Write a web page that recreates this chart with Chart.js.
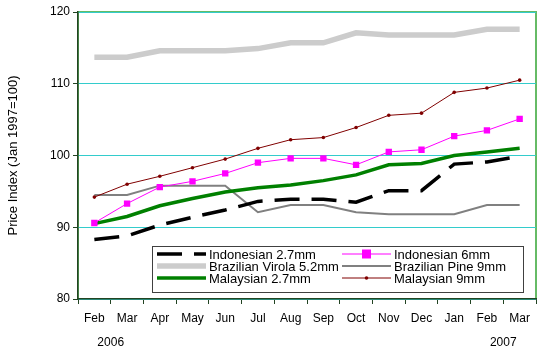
<!DOCTYPE html>
<html>
<head>
<meta charset="utf-8">
<script src="https://cdn.jsdelivr.net/npm/chart.js@4"></script>
<style>
  body { margin: 0; background: #fff; }
  #wrap { width: 542px; height: 356px; }
</style>
</head>
<body>
<div id="wrap"><canvas id="c"></canvas></div>
<script>
const months = ["Feb", "Mar", "Apr", "May", "Jun", "Jul", "Aug", "Sep", "Oct", "Nov", "Dec", "Jan", "Feb", "Mar"];
const years = [{ label: "2006", from: 0, to: 1 }, { label: "2007", from: 12, to: 13 }];
const yTicks = [80, 90, 100, 110, 120];

const indonesian27 = [88.3, 88.8, 90.3, 91.4, 92.4, 93.6, 93.9, 93.9, 93.5, 95.1, 95.1, 98.8, 99.1, 99.9];
const indonesian6 = [90.6, 93.3, 95.6, 96.4, 97.5, 99.0, 99.6, 99.6, 98.7, 100.5, 100.8, 102.7, 103.5, 105.1];
const brazVirola = [113.7, 113.7, 114.6, 114.6, 114.6, 114.9, 115.7, 115.7, 117.1, 116.8, 116.8, 116.8, 117.6, 117.6];
const brazPine = [94.5, 94.5, 95.8, 95.8, 95.8, 92.1, 93.1, 93.1, 92.1, 91.8, 91.8, 91.8, 93.1, 93.1];
const malaysian27 = [90.5, 91.5, 93.0, 94.0, 94.9, 95.5, 95.9, 96.5, 97.3, 98.7, 98.9, 100.0, 100.5, 101.0];
const malaysian9 = [94.2, 96.0, 97.1, 98.3, 99.5, 101.0, 102.2, 102.5, 103.9, 105.6, 105.9, 108.8, 109.4, 110.5];

const font = "'Liberation Sans', Arial, sans-serif";

// green plot-area frame, drawn under the grid
const frame = {
  id: "frame",
  beforeDraw(chart) {
    const { ctx, chartArea: a } = chart;
    ctx.save();
    ctx.strokeStyle = "#66bb66";
    ctx.lineWidth = 2;
    ctx.strokeRect(a.left, a.top, a.right - a.left, a.bottom - a.top);
    ctx.restore();
  }
};

// legend box inside the plot, two columns
const boxLegend = {
  id: "boxLegend",
  afterDatasetsDraw(chart) {
    const ctx = chart.ctx;
    const x0 = 152, y0 = 246, w = 371, h = 46;
    ctx.save();
    ctx.fillStyle = "#fff";
    ctx.fillRect(x0, y0, w, h);
    ctx.strokeStyle = "#404040";
    ctx.lineWidth = 1;
    ctx.strokeRect(x0 + 0.5, y0 + 0.5, w, h);
    const cols = [157, 342];
    const rows = [254, 266, 278];
    ctx.font = "13px " + font;
    ctx.textBaseline = "middle";
    chart.data.datasets.forEach((ds, i) => {
      const sx = cols[i % 2], sy = rows[Math.floor(i / 2)];
      ctx.beginPath();
      ctx.strokeStyle = ds.borderColor;
      ctx.lineWidth = ds.borderWidth;
      ctx.setLineDash(ds.borderDash || []);
      ctx.moveTo(sx, sy);
      ctx.lineTo(sx + 49, sy);
      ctx.stroke();
      ctx.setLineDash([]);
      if (ds.pointRadius > 0) {
        ctx.fillStyle = ds.pointBackgroundColor;
        const r = ds.pointRadius;
        if (ds.pointStyle === "rect") ctx.fillRect(sx + 24.5 - r, sy - r, 2 * r, 2 * r);
        else { ctx.beginPath(); ctx.arc(sx + 24.5, sy, r, 0, Math.PI * 2); ctx.fill(); }
      }
      ctx.fillStyle = "#000";
      ctx.fillText(ds.label, sx + 52, sy + 1);
    });
    ctx.restore();
  }
};

// year labels under the month ticks
const yearLabels = {
  id: "yearLabels",
  afterDraw(chart) {
    const ctx = chart.ctx, xs = chart.scales.x;
    ctx.save();
    ctx.font = "12px " + font;
    ctx.fillStyle = "#000";
    ctx.textAlign = "center";
    ctx.textBaseline = "middle";
    years.forEach(y => {
      const x = (xs.getPixelForValue(y.from) + xs.getPixelForValue(y.to)) / 2;
      ctx.fillText(y.label, x, 343);
    });
    ctx.restore();
  }
};

new Chart(document.getElementById("c"), {
  type: "line",
  data: {
    labels: months,
    datasets: [
      { label: "Indonesian 2.7mm", data: indonesian27, borderColor: "#000", borderWidth: 3.5, borderDash: [25, 12], pointRadius: 0, order: 1 },
      { label: "Indonesian 6mm", data: indonesian6, borderColor: "#ff00ff", borderWidth: 1, pointStyle: "rect", pointRadius: 4.5, pointBackgroundColor: "#ff00ff", pointBorderWidth: 0, order: 0 },
      { label: "Brazilian Virola 5.2mm", data: brazVirola, borderColor: "#cccccc", borderWidth: 5.5, pointRadius: 0, order: 5 },
      { label: "Brazilian Pine 9mm", data: brazPine, borderColor: "#808080", borderWidth: 2, pointRadius: 0, order: 4 },
      { label: "Malaysian 2.7mm", data: malaysian27, borderColor: "#008000", borderWidth: 3.5, pointRadius: 0, order: 2 },
      { label: "Malaysian 9mm", data: malaysian9, borderColor: "#800000", borderWidth: 1, pointRadius: 1.8, pointBackgroundColor: "#800000", pointBorderWidth: 0, order: 3 }
    ]
  },
  options: {
    responsive: true,
    maintainAspectRatio: false,
    animation: false,
    layout: { padding: { top: 12, right: 6, left: 0, bottom: 0 } },
    elements: { line: { tension: 0, borderCapStyle: "butt" } },
    plugins: {
      legend: { display: false },
      tooltip: { enabled: false }
    },
    scales: {
      x: {
        offset: true,
        grid: { offset: true, drawOnChartArea: false, drawTicks: true, tickLength: 5, color: "#224422" },
        border: { color: "#224422", width: 1.5 },
        ticks: { color: "#000", font: { family: font, size: 12 }, padding: 7, maxRotation: 0, autoSkip: false },
        afterFit(s) { s.height = 57; }
      },
      y: {
        min: 80,
        max: 120,
        afterBuildTicks(s) { s.ticks = yTicks.map(v => ({ value: v })); },
        grid: { color: "#33cccc", borderDash: [7, 4], tickColor: "#224422", tickBorderDash: [], tickLength: 5 },
        border: { color: "#224422", width: 1.5 },
        ticks: { color: "#000", font: { family: font, size: 12 }, padding: 3 },
        title: { display: true, text: "Price Index (Jan 1997=100)", color: "#000", font: { family: font, size: 13 }, padding: { top: 6, bottom: 6 } },
        afterFit(s) { s.width = 78; }
      }
    }
  },
  plugins: [frame, boxLegend, yearLabels]
});
</script>
</body>
</html>
